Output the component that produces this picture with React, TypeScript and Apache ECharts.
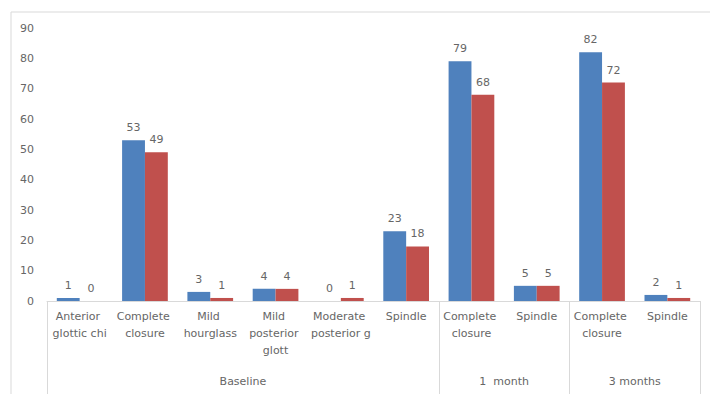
import React, { useEffect, useRef } from "react";
import * as echarts from "echarts";

const categories = [
  "Anterior glottic chi",
  "Complete closure",
  "Mild hourglass",
  "Mild posterior glott",
  "Moderate posterior g",
  "Spindle",
  "Complete closure",
  "Spindle",
  "Complete closure",
  "Spindle",
];
const seriesA = [1, 53, 3, 4, 0, 23, 79, 5, 82, 2];
const seriesB = [0, 49, 1, 4, 1, 18, 68, 5, 72, 1];
const groups = ["Baseline", "1  month", "3 months"];
const groupSizes = [6, 2, 2];
const yTicks = [0, 10, 20, 30, 40, 50, 60, 70, 80, 90];

const TEXT = "#666666";
const FONT = "'DejaVu Sans', 'Noto Sans', sans-serif";

export default function App() {
  const ref = useRef<HTMLDivElement>(null);
  useEffect(() => {
    if (!ref.current) return;
    const chart = echarts.init(ref.current, undefined, { renderer: "svg" });
    const bounds: number[] = [0];
    const centers: number[] = [];
    let acc = 0;
    groupSizes.forEach((s) => {
      centers.push(acc + s / 2);
      acc += s;
      bounds.push(acc);
    });
    const labelStyle = {
      show: true,
      position: "top",
      color: TEXT,
      fontSize: 11,
      distance: 7,
      fontFamily: FONT,
    };
    chart.setOption({
      animation: false,
      backgroundColor: "#ffffff",
      textStyle: { fontFamily: FONT },
      graphic: [
        {
          type: "rect",
          shape: { x: 11, y: 12, width: 760, height: 420 },
          style: { fill: "none", stroke: "#d9d9d9", lineWidth: 1 },
          silent: true,
        },
      ],
      grid: { left: 47, right: 10, top: 28, bottom: 93, containLabel: false },
      xAxis: [
        {
          type: "category",
          data: categories,
          axisLine: { show: true, lineStyle: { color: "#d9d9d9" } },
          axisTick: { show: false },
          axisLabel: {
            interval: 0,
            color: TEXT,
            fontSize: 11,
            lineHeight: 17,
            margin: 7,
            width: 64,
            overflow: "break",
            fontFamily: FONT,
          },
        },
        {
          type: "value",
          min: 0,
          max: categories.length,
          position: "bottom",
          axisLine: { show: false },
          splitLine: { show: false },
          axisTick: {
            show: true,
            inside: false,
            length: 93,
            customValues: bounds,
            lineStyle: { color: "#d9d9d9" },
          },
          axisLabel: {
            show: true,
            customValues: centers,
            margin: 75,
            color: TEXT,
            fontSize: 11,
            fontFamily: FONT,
            formatter: (v: number) => {
              const i = centers.findIndex((c) => Math.abs(c - v) < 1e-6);
              return i >= 0 ? groups[i] : "";
            },
          },
        },
      ],
      yAxis: {
        type: "value",
        min: 0,
        max: yTicks[yTicks.length - 1],
        interval: 10,
        axisLine: { show: false },
        axisTick: { show: false },
        splitLine: { show: false },
        axisLabel: { color: TEXT, fontSize: 11, margin: 13, fontFamily: FONT },
      },
      series: [
        {
          type: "bar",
          data: seriesA,
          barGap: "0%",
          barCategoryGap: "30%",
          itemStyle: { color: "#4F81BD" },
          label: labelStyle,
        },
        {
          type: "bar",
          data: seriesB,
          itemStyle: { color: "#C0504D" },
          label: labelStyle,
        },
      ],
    });
    return () => chart.dispose();
  }, []);
  return <div ref={ref} style={{ width: 710, height: 394, position: "absolute", left: 0, top: 0 }} />;
}
